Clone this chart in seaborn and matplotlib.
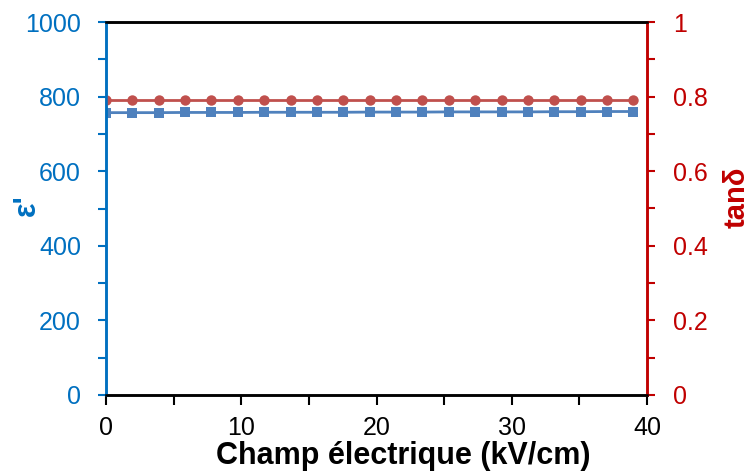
import matplotlib
matplotlib.use("Agg")
import matplotlib.pyplot as plt
import seaborn as sns
import numpy as np
import pandas as pd
from matplotlib.ticker import MultipleLocator

sns.set_theme(style="white")
plt.rcParams['font.family'] = ['Liberation Sans', 'DejaVu Sans']

champ = [0, 1.95, 3.9, 5.85, 7.8, 9.75, 11.7, 13.65, 15.6, 17.55, 19.5,
         21.45, 23.4, 25.35, 27.3, 29.25, 31.2, 33.15, 35.1, 37.05, 39.0]
epsilon = [757, 757, 757, 757.5, 757.5, 757.5, 758, 758, 758, 758, 758.5,
           758.5, 758.5, 759, 759, 759, 759, 759.5, 759.5, 760, 760]
tand = [0.791] * 21
y1_ticks = [0, 200, 400, 600, 800, 1000]
y2_ticks = [0, 0.2, 0.4, 0.6, 0.8, 1.0]
y2_labels = ["0", "0.2", "0.4", "0.6", "0.8", "1"]

df = pd.DataFrame({"E": champ, "eps": epsilon, "tand": tand})

blue_tick = "#0070C0"
red_axis = "#C00000"
blue_m = "#4F81BD"
red_m = "#C0504D"

fig = plt.figure(figsize=(7.5, 4.72), dpi=100)
ax = fig.add_axes([106/750, 1-395/472, (647-106)/750, (395-22)/472])
ax2 = ax.twinx()

sns.lineplot(data=df, x="E", y="eps", ax=ax, color=blue_m, marker="s",
             markersize=6.5, markeredgewidth=0, linewidth=2)
sns.lineplot(data=df, x="E", y="tand", ax=ax2, color=red_m, marker="o",
             markersize=7.5, markeredgewidth=0, linewidth=2)

ax.set_xlim(0, 40)
ax.set_ylim(0, 1000)
ax2.set_ylim(0, 1)
ax.xaxis.set_major_locator(MultipleLocator(10))
ax.xaxis.set_minor_locator(MultipleLocator(5))
ax.set_yticks(y1_ticks)
ax.yaxis.set_minor_locator(MultipleLocator(100))
ax2.set_yticks(y2_ticks)
ax2.set_yticklabels(y2_labels)
ax2.yaxis.set_minor_locator(MultipleLocator(0.1))

for a in (ax, ax2):
    for s in a.spines.values():
        s.set_linewidth(1.8)
        s.set_color("black")
    a.spines["left"].set_color(blue_tick)
    a.spines["right"].set_color(red_axis)

ax.tick_params(axis="x", which="both", direction="out", bottom=True, colors="black",
               labelsize=18, width=1.5, length=7, pad=8)
ax.tick_params(axis="y", which="both", direction="out", left=True, color=blue_tick,
               labelcolor=blue_tick, labelsize=18, width=1.5, length=6, pad=12)
ax2.tick_params(axis="y", which="both", direction="out", right=True, color=red_axis,
                labelcolor=red_axis, labelsize=18, width=1.5, length=6, pad=13)

ax.set_xlabel("Champ électrique (kV/cm)", fontsize=22, fontweight="bold", color="black")
ax.set_ylabel("ε'", fontsize=22, fontweight="bold", color=blue_tick)
ax2.set_ylabel("tanδ", fontsize=21, fontweight="bold", color=red_axis)
ax.xaxis.set_label_coords(0.55, -0.124)
ax.yaxis.set_label_coords(-0.118, 0.51)
ax2.yaxis.set_label_coords(1.139, 0.529)

fig.savefig("out.png", dpi=100)
